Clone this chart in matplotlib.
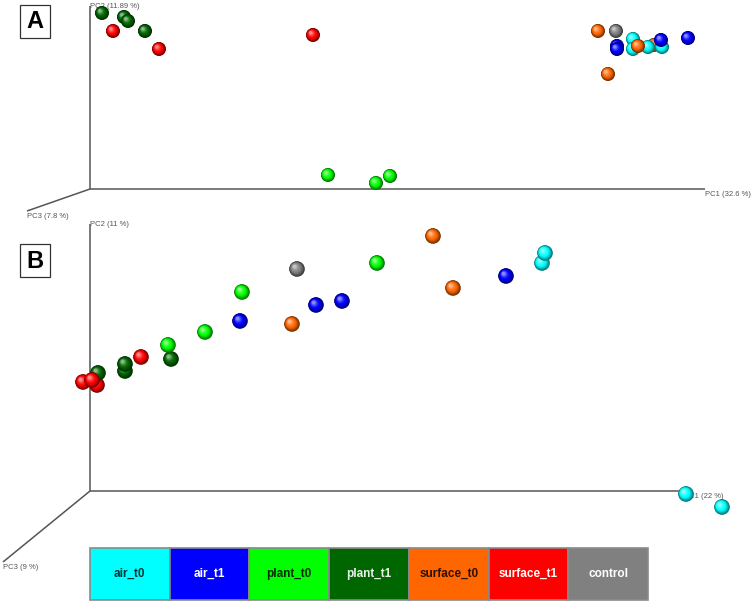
import numpy as np
import matplotlib.pyplot as plt
from matplotlib.patches import Circle, Rectangle
from matplotlib.colors import to_rgb

plt.rcParams['font.family'] = ['Liberation Sans', 'DejaVu Sans']

groups = ['air_t0', 'air_t1', 'plant_t0', 'plant_t1', 'surface_t0', 'surface_t1', 'control']
group_colors = ['#00ffff', '#0000ff', '#00ff00', '#006600', '#ff6600', '#ff0000', '#808080']
label_colors = ['#003838', '#ffffff', '#002a00', '#e8f0e8', '#301000', '#ffffff', '#ffffff']

# panel A (PC1 32.6 %, PC2 11.89 %, PC3 7.8 %), screen position of each sample
a_group = ['plant_t1', 'plant_t1', 'plant_t1', 'plant_t1', 'surface_t1', 'surface_t1', 'surface_t1',
           'plant_t0', 'plant_t0', 'plant_t0', 'surface_t0', 'control', 'surface_t0', 'air_t0',
           'air_t1', 'air_t1', 'air_t0', 'air_t0', 'surface_t0', 'air_t0', 'air_t1', 'air_t1',
           'surface_t0']
a_x = [102, 124, 128, 145, 113, 159, 313, 328, 376, 390, 598, 616, 654, 633,
       617, 617, 633, 648, 638, 662, 661, 688, 608]
a_y = [13, 17, 21, 31, 31, 49, 35, 175, 183, 176, 31, 31, 45, 39,
       46, 49, 49, 47, 46, 47, 40, 38, 74]

# panel B (PC1 22 %, PC2 11 %, PC3 9 %)
b_group = ['surface_t1', 'surface_t1', 'plant_t1', 'surface_t1', 'plant_t1', 'plant_t1',
           'surface_t1', 'plant_t1', 'plant_t0', 'plant_t0', 'plant_t0', 'air_t1',
           'surface_t0', 'control', 'air_t1', 'air_t1', 'plant_t0', 'surface_t0',
           'surface_t0', 'air_t1', 'air_t0', 'air_t0', 'air_t0', 'air_t0']
b_x = [83, 97, 98, 92, 125, 125, 141, 171, 168, 205, 242, 240,
       292, 297, 316, 342, 377, 433, 453, 506, 542, 545, 686, 722]
b_y = [382, 385, 373, 380, 371, 364, 357, 359, 345, 332, 292, 321,
       324, 269, 305, 301, 263, 236, 288, 276, 263, 253, 494, 507]


def sphere(ax, x, y, r, color, n=14):
    base = np.array(to_rgb(color))
    for i in range(n):
        t = i / (n - 1)
        if t < 0.45:
            c = base * (0.45 + 0.55 * t / 0.45)
        else:
            k = (t - 0.45) / 0.55
            c = base + (1 - base) * 0.55 * k ** 1.5
        rr = r * (1 - 0.8 * t)
        off = 0.32 * r * t
        ax.add_patch(Circle((x - off, y - off), rr, color=np.clip(c, 0, 1), lw=0, zorder=3))


def draw_axes(ax, ox, oy, top, right, z_end, lab1, lab2, lab3):
    kw = dict(color='#555555', lw=1.1, zorder=1, solid_capstyle='butt')
    ax.plot([ox, ox], [oy, top], **kw)
    ax.plot([ox, right], [oy, oy], **kw)
    ax.plot([ox, z_end[0]], [oy, z_end[1]], **kw)
    tk = dict(fontsize=5.5, color='#555555', zorder=2)
    ax.text(ox, top - 3, lab2, ha='left', va='top', **tk)
    ax.text(right, oy + 2, lab1, ha='left', va='top', **tk)
    ax.text(z_end[0], z_end[1] + 2, lab3, ha='left', va='top', **tk)


def panel_letter(ax, x, y, letter):
    ax.add_patch(Rectangle((x, y), 30, 33, fill=False, ec='#333333', lw=0.9))
    ax.text(x + 15, y + 17, letter, ha='center', va='center', fontsize=17, fontweight='bold')


fig = plt.figure(figsize=(7.56, 6.05), dpi=100)
ax = fig.add_axes([0, 0, 1, 1])
ax.set_xlim(0, 756)
ax.set_ylim(605, 0)
ax.axis('off')

draw_axes(ax, 90, 189, 6, 705, (27, 211), 'PC1 (32.6 %)', 'PC2 (11.89 %)', 'PC3 (7.8 %)')
draw_axes(ax, 90, 491, 224, 684, (3, 562), 'PC1 (22 %)', 'PC2 (11 %)', 'PC3 (9 %)')
panel_letter(ax, 20, 5, 'A')
panel_letter(ax, 20, 244, 'B')

cmap = dict(zip(groups, group_colors))
for g, x, y in zip(a_group, a_x, a_y):
    sphere(ax, x, y, 7, cmap[g])
for g, x, y in zip(b_group, b_x, b_y):
    sphere(ax, x, y, 7.8, cmap[g])

# legend strip
lx0, ly0, lw_, lh = 90, 548, 558, 52
bw = lw_ / len(groups)
for i, (g, c, tc) in enumerate(zip(groups, group_colors, label_colors)):
    ax.add_patch(Rectangle((lx0 + i * bw, ly0), bw, lh, fc=c, ec='#8a8a8a', lw=1.2, zorder=4))
    ax.text(lx0 + (i + 0.5) * bw, ly0 + lh / 2, g, ha='center', va='center',
            fontsize=8.5, fontweight='bold', color=tc, zorder=5)

fig.savefig('out.png', dpi=100)
